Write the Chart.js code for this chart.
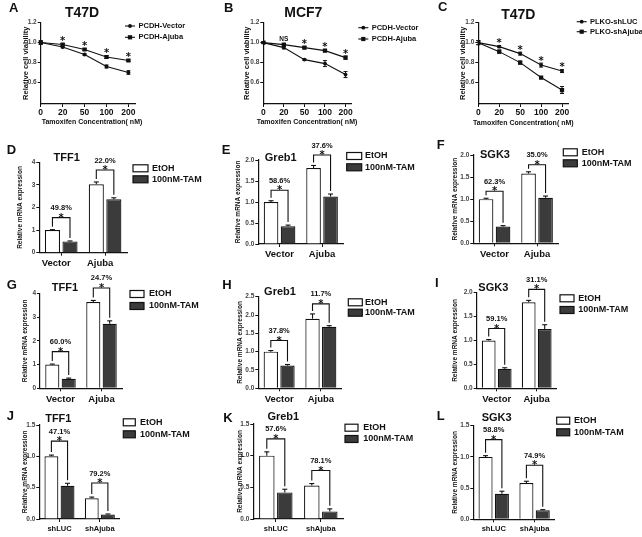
<!DOCTYPE html>
<html>
<head>
<meta charset="utf-8">
<script src="https://cdn.jsdelivr.net/npm/chart.js@4.4.1/dist/chart.umd.min.js"></script>
<style>
  html, body { margin: 0; padding: 0; background: #fff; }
  #fig { position: relative; width: 642px; height: 537px; overflow: hidden; }
  #fig canvas { position: absolute; }
</style>
</head>
<body>
<div id="fig"></div>
<script>
// ---- A-C: cell viability vs tamoxifen dose ----
const conc = ["0", "20", "50", "100", "200"];
const viabTicks = [0.6, 0.8, 1.0, 1.2];

const aVector = [1.00, 0.955, 0.88, 0.76, 0.70];
const aVectorErr = [0.01, 0.008, 0.008, 0.015, 0.018];
const aAjuba = [1.00, 0.98, 0.93, 0.855, 0.82];
const aAjubaErr = [0.02, 0.01, 0.01, 0.015, 0.01];
const aMarks = ["", "*", "*", "*", "*"];

const bVector = [1.00, 0.95, 0.83, 0.79, 0.68];
const bVectorErr = [0.01, 0.012, 0.008, 0.03, 0.03];
const bAjuba = [1.00, 0.98, 0.95, 0.92, 0.85];
const bAjubaErr = [0.01, 0.01, 0.01, 0.01, 0.015];
const bMarks = ["", "NS", "*", "*", "*"];

const cShLUC = [1.00, 0.96, 0.89, 0.775, 0.715];
const cShLUCErr = [0.02, 0.01, 0.015, 0.02, 0.015];
const cShAjuba = [1.00, 0.91, 0.80, 0.65, 0.525];
const cShAjubaErr = [0.02, 0.015, 0.015, 0.008, 0.035];
const cMarks = ["", "*", "*", "*", "*"];

// ---- D-L: qPCR, EtOH vs 100nM tamoxifen ----
const treatments = ["EtOH", "100nM-TAM"];
const groupsOE = ["Vector", "Ajuba"];
const groupsKD = ["shLUC", "shAjuba"];
const ticks4 = [0, 1, 2, 3, 4];
const ticks2 = [0, 0.5, 1.0, 1.5, 2.0];
const ticks25 = [0, 0.5, 1.0, 1.5, 2.0, 2.5];
const ticks15 = [0, 0.5, 1.0, 1.5];

const dEtoh = [1.00, 3.03], dEtohErr = [0.02, 0.10];
const dTam = [0.50, 2.36], dTamErr = [0.02, 0.07];
const dPct = ["49.8%", "22.0%"];

const eEtoh = [1.00, 1.81], eEtohErr = [0.03, 0.06];
const eTam = [0.42, 1.13], eTamErr = [0.03, 0.06];
const ePct = ["58.6%", "37.6%"];

const fEtoh = [1.00, 1.58], fEtohErr = [0.02, 0.04];
const fTam = [0.38, 1.03], fTamErr = [0.02, 0.04];
const fPct = ["62.3%", "35.0%"];

const gEtoh = [1.00, 3.63], gEtohErr = [0.02, 0.07];
const gTam = [0.40, 2.72], gTamErr = [0.03, 0.12];
const gPct = ["60.0%", "24.7%"];

const hEtoh = [1.00, 1.90], hEtohErr = [0.03, 0.13];
const hTam = [0.62, 1.68], hTamErr = [0.03, 0.03];
const hPct = ["37.8%", "11.7%"];

const iEtoh = [1.00, 1.80], iEtohErr = [0.02, 0.04];
const iTam = [0.41, 1.24], iTamErr = [0.02, 0.09];
const iPct = ["59.1%", "31.1%"];

const jEtoh = [1.00, 0.33], jEtohErr = [0.02, 0.02];
const jTam = [0.53, 0.07], jTamErr = [0.04, 0.01];
const jPct = ["47.1%", "79.2%"];

const kEtoh = [1.00, 0.53], kEtohErr = [0.06, 0.03];
const kTam = [0.42, 0.12], kTamErr = [0.05, 0.04];
const kPct = ["57.6%", "78.1%"];

const lEtoh = [1.00, 0.58], lEtohErr = [0.02, 0.03];
const lTam = [0.41, 0.145], lTamErr = [0.04, 0.01];
const lPct = ["58.8%", "74.9%"];

const INK = "#111";
const DARK = "#3b3b3b";
const FAMILY = "'Liberation Sans', Arial, sans-serif";
const STAR = "bold 10px 'DejaVu Sans', sans-serif";
const font = (size, bold = true) => `${bold ? "bold " : ""}${size}px ${FAMILY}`;
const fig = document.getElementById("fig");

function addCanvas(p) {
  const c = document.createElement("canvas");
  c.width = p.w;
  c.height = p.h;
  c.style.left = p.x + "px";
  c.style.top = p.y + "px";
  c.style.width = p.w + "px";
  c.style.height = p.h + "px";
  fig.appendChild(c);
  return c;
}

function put(ctx, s, x, y, f, align = "center", base = "middle") {
  ctx.font = f;
  ctx.textAlign = align;
  ctx.textBaseline = base;
  ctx.fillText(s, x, y);
}

function seg(ctx, x0, y0, x1, y1) {
  ctx.beginPath();
  ctx.moveTo(x0, y0);
  ctx.lineTo(x1, y1);
  ctx.stroke();
}

// letter, title and rotated y title, shared by every panel
function drawFrame(chart, ctx, p) {
  const a = chart.chartArea;
  put(ctx, p.letter, p.letterAt[0], p.letterAt[1], font(13), "left");
  put(ctx, p.title, p.titleAt[0], p.titleAt[1], font(p.titleSize));
  ctx.save();
  ctx.translate(p.yTitleX, (a.top + a.bottom) / 2);
  ctx.rotate(-Math.PI / 2);
  put(ctx, p.yTitle, 0, 0, font(p.yTitleSize));
  ctx.restore();
}

function yAxis(p, max, ticks, digits) {
  return {
    min: p.yMin || 0,
    max,
    afterBuildTicks: s => { s.ticks = ticks.map(value => ({ value })); },
    afterFit: s => { s.width = p.area.l; },
    border: { color: INK, width: 1.2 },
    grid: { drawOnChartArea: false, tickLength: 3, color: INK },
    ticks: {
      font: { family: FAMILY, size: 6.5, weight: "bold" },
      color: "#444",
      padding: 1,
      callback: v => v.toFixed(digits),
    },
  };
}

// ---------- viability line panels ----------
function lineChart(p) {
  const canvas = addCanvas(p);
  const datasets = p.series.map(s => ({
    label: s.name,
    data: s.values.map((y, x) => ({ x, y })),
    borderColor: INK,
    borderWidth: 1.1,
    pointStyle: s.marker,
    pointRadius: s.marker === "rect" ? 3 : 1.9,
    pointBackgroundColor: INK,
    pointBorderWidth: 0,
    tension: 0,
  }));

  const decor = {
    id: "decor",
    afterDraw(chart) {
      const ctx = chart.ctx;
      const y = chart.scales.y;
      ctx.save();
      ctx.fillStyle = INK;
      ctx.strokeStyle = INK;
      drawFrame(chart, ctx, p);
      put(ctx, p.xTitle, p.xTitleAt[0], p.xTitleAt[1], font(7));

      // error bars
      ctx.lineWidth = 1;
      p.series.forEach((s, k) => {
        chart.getDatasetMeta(k).data.forEach((pt, j) => {
          const t = y.getPixelForValue(s.values[j] + s.errs[j]);
          const b = y.getPixelForValue(s.values[j] - s.errs[j]);
          if (b - t < 1.5) return;
          seg(ctx, pt.x, t, pt.x, b);
          seg(ctx, pt.x - 2, t, pt.x + 2, t);
          seg(ctx, pt.x - 2, b, pt.x + 2, b);
        });
      });

      // significance marks above the upper curve
      const up = p.series[p.marksOn];
      chart.getDatasetMeta(p.marksOn).data.forEach((pt, j) => {
        const m = p.marks[j];
        if (!m) return;
        const top = y.getPixelForValue(up.values[j] + up.errs[j]);
        if (m === "*") put(ctx, m, pt.x, top + 0.5, STAR, "center", "alphabetic");
        else put(ctx, m, pt.x, top - 4.5, font(6.5));
      });

      // legend
      p.series.forEach((s, k) => {
        const ly = p.legend.rows[k];
        const [x0, x1] = p.legend.line;
        ctx.lineWidth = 1.1;
        seg(ctx, x0, ly, x1, ly);
        const cx = (x0 + x1) / 2;
        if (s.marker === "rect") ctx.fillRect(cx - 2.1, ly - 2.1, 4.2, 4.2);
        else { ctx.beginPath(); ctx.arc(cx, ly, 1.9, 0, Math.PI * 2); ctx.fill(); }
        put(ctx, s.name, p.legend.text, ly, font(7.5), "left");
      });
      ctx.restore();
    },
  };

  new Chart(canvas, {
    type: "line",
    data: { datasets },
    options: {
      responsive: false,
      animation: false,
      events: [],
      layout: { padding: { left: 0, top: p.area.t, right: p.w - p.area.r, bottom: 0 } },
      plugins: { legend: { display: false }, tooltip: { enabled: false } },
      scales: {
        x: {
          type: "linear",
          min: 0,
          max: 4.3,
          afterBuildTicks: s => { s.ticks = conc.map((_, i) => ({ value: i })); },
          afterFit: s => { s.height = p.h - p.area.b; },
          border: { color: INK, width: 1.2 },
          grid: { drawOnChartArea: false, tickLength: 3, color: INK },
          ticks: {
            autoSkip: false,
            maxRotation: 0,
            padding: 1,
            color: INK,
            font: { family: FAMILY, size: 8.5, weight: "bold" },
            callback: v => conc[v],
          },
        },
        y: yAxis(p, 1.2, viabTicks, 1),
      },
    },
    plugins: [decor],
  });
}

// ---------- qPCR bar panels ----------
function barChart(p) {
  const canvas = addCanvas(p);
  const bar = { borderColor: INK, borderWidth: 1.2, categoryPercentage: 0.8, barPercentage: 0.86 };

  const decor = {
    id: "decor",
    afterDraw(chart) {
      const ctx = chart.ctx;
      const y = chart.scales.y;
      const mE = chart.getDatasetMeta(0).data;
      const mT = chart.getDatasetMeta(1).data;
      ctx.save();
      ctx.fillStyle = INK;
      ctx.strokeStyle = INK;
      drawFrame(chart, ctx, p);
      ctx.lineWidth = 1.1;

      const errBar = (el, v, e) => {
        const top = y.getPixelForValue(v + e);
        seg(ctx, el.x, el.y, el.x, top);
        seg(ctx, el.x - 2.5, top, el.x + 2.5, top);
        return top;
      };

      p.groups.forEach((g, i) => {
        const tL = errBar(mE[i], p.etoh[i], p.etohErr[i]);
        const tR = errBar(mT[i], p.tam[i], p.tamErr[i]);
        const by = Math.min(tL, tR) - p.gap;
        ctx.beginPath();
        ctx.moveTo(mE[i].x, tL - 3);
        ctx.lineTo(mE[i].x, by);
        ctx.lineTo(mT[i].x, by);
        ctx.lineTo(mT[i].x, tR - 3);
        ctx.stroke();
        const cx = (mE[i].x + mT[i].x) / 2;
        put(ctx, "*", cx, by + 3, STAR, "center", "alphabetic");
        put(ctx, p.pct[i], cx, by - 9.5, font(7.5));
      });

      // legend
      const [bx, bw] = p.legend.box;
      treatments.forEach((t, k) => {
        const ly = p.legend.rows[k];
        ctx.fillStyle = k ? DARK : "#fff";
        ctx.fillRect(bx, ly - 3.5, bw, 7);
        ctx.lineWidth = 1.2;
        ctx.strokeRect(bx, ly - 3.5, bw, 7);
        ctx.fillStyle = INK;
        put(ctx, t, p.legend.text, ly, font(9), "left");
      });
      ctx.restore();
    },
  };

  new Chart(canvas, {
    type: "bar",
    data: {
      labels: p.groups,
      datasets: [
        { ...bar, label: treatments[0], data: p.etoh, backgroundColor: "#fff" },
        { ...bar, label: treatments[1], data: p.tam, backgroundColor: DARK },
      ],
    },
    options: {
      responsive: false,
      animation: false,
      events: [],
      layout: { padding: { left: 0, top: p.area.t, right: p.w - p.area.r, bottom: 0 } },
      plugins: { legend: { display: false }, tooltip: { enabled: false } },
      scales: {
        x: {
          offset: true,
          afterFit: s => { s.height = p.h - p.area.b; },
          border: { color: INK, width: 1.2 },
          grid: { offset: false, drawOnChartArea: false, tickLength: 3, color: INK },
          ticks: {
            padding: 2,
            color: INK,
            labelOffset: p.labelShift || 0,
            font: { family: FAMILY, size: p.groupSize, weight: "bold" },
          },
        },
        y: yAxis(p, p.yMax, p.yTicks, p.digits),
      },
    },
    plugins: [decor],
  });
}

const VIAB = "Relative cell viability";
const XT = "Tamoxifen Concentration( nM)";
const MRNA = "Relative mRNA expression";

lineChart({
  x: 0, y: 0, w: 215, h: 130, yMin: 0.385,
  area: { l: 40.7, t: 22.5, r: 135, b: 104 },
  letter: "A", letterAt: [9, 8], title: "T47D", titleAt: [82, 13], titleSize: 14,
  yTitle: VIAB, yTitleX: 26, yTitleSize: 7.5, xTitle: XT, xTitleAt: [92, 121.7],
  series: [
    { name: "PCDH-Vector", values: aVector, errs: aVectorErr, marker: "circle" },
    { name: "PCDH-Ajuba", values: aAjuba, errs: aAjubaErr, marker: "rect" },
  ],
  marksOn: 1, marks: aMarks,
  legend: { line: [125, 135], text: 138.5, rows: [26, 37.3] },
});

lineChart({
  x: 215, y: 0, w: 215, h: 130, yMin: 0.385,
  area: { l: 48.3, t: 22.7, r: 136.7, b: 104 },
  letter: "B", letterAt: [9, 8], title: "MCF7", titleAt: [88.3, 13.3], titleSize: 14,
  yTitle: VIAB, yTitleX: 31.7, yTitleSize: 7.5, xTitle: XT, xTitleAt: [92, 121.7],
  series: [
    { name: "PCDH-Vector", values: bVector, errs: bVectorErr, marker: "circle" },
    { name: "PCDH-Ajuba", values: bAjuba, errs: bAjubaErr, marker: "rect" },
  ],
  marksOn: 1, marks: bMarks,
  legend: { line: [143.3, 153.3], text: 156.7, rows: [27.7, 39] },
});

lineChart({
  x: 430, y: 0, w: 212, h: 130, yMin: 0.385,
  area: { l: 48.3, t: 22.7, r: 138.3, b: 104 },
  letter: "C", letterAt: [8, 7], title: "T47D", titleAt: [88.3, 15], titleSize: 14,
  yTitle: VIAB, yTitleX: 33.3, yTitleSize: 7.5, xTitle: XT, xTitleAt: [93.3, 122.7],
  series: [
    { name: "PLKO-shLUC", values: cShLUC, errs: cShLUCErr, marker: "circle" },
    { name: "PLKO-shAjuba", values: cShAjuba, errs: cShAjubaErr, marker: "rect" },
  ],
  marksOn: 0, marks: cMarks,
  legend: { line: [146.7, 156.7], text: 160, rows: [21.7, 31.7] },
});

const barPanels = [
  { x: 0, y: 130, w: 215, h: 140, area: { l: 39.3, t: 32.3, r: 127, b: 122.7 },
    letter: "D", letterAt: [6.7, 20], title: "TFF1", titleAt: [66.7, 28.3], yTitleX: 20,
    groups: groupsOE, etoh: dEtoh, etohErr: dEtohErr, tam: dTam, tamErr: dTamErr, pct: dPct,
    yMax: 4, yTicks: ticks4, digits: 0, gap: 12, labelShift: -5,
    legend: { box: [133, 15], text: 152, rows: [38.3, 49.3] } },
  { x: 215, y: 130, w: 215, h: 140, area: { l: 43.3, t: 30, r: 128.3, b: 114 },
    letter: "E", letterAt: [6.7, 20], title: "Greb1", titleAt: [65.7, 28.3], yTitleX: 23.3,
    groups: groupsOE, etoh: eEtoh, etohErr: eEtohErr, tam: eTam, tamErr: eTamErr, pct: ePct,
    yMax: 2, yTicks: ticks2, digits: 1, gap: 10.5,
    legend: { box: [131.7, 15], text: 150, rows: [26, 37.3] } },
  { x: 430, y: 130, w: 212, h: 140, area: { l: 43.3, t: 25, r: 128.3, b: 113.3 },
    letter: "F", letterAt: [6.7, 15], title: "SGK3", titleAt: [65, 25], yTitleX: 25,
    groups: groupsOE, etoh: fEtoh, etohErr: fEtohErr, tam: fTam, tamErr: fTamErr, pct: fPct,
    yMax: 2, yTicks: ticks2, digits: 1, gap: 7,
    legend: { box: [133.3, 14], text: 151.7, rows: [22.3, 33.3] } },
  { x: 0, y: 270, w: 215, h: 135, area: { l: 40, t: 23.3, r: 122, b: 118.3 },
    letter: "G", letterAt: [6.7, 15], title: "TFF1", titleAt: [65, 18.3], yTitleX: 25,
    groups: groupsOE, etoh: gEtoh, etohErr: gEtohErr, tam: gTam, tamErr: gTamErr, pct: gPct,
    yMax: 4, yTicks: ticks4, digits: 0, gap: 12.5,
    legend: { box: [130, 14], text: 149, rows: [24, 36] } },
  { x: 215, y: 270, w: 215, h: 135, area: { l: 43.3, t: 26.7, r: 126.7, b: 118.3 },
    letter: "H", letterAt: [7.3, 15], title: "Greb1", titleAt: [65, 21.7], yTitleX: 25,
    groups: groupsOE, etoh: hEtoh, etohErr: hEtohErr, tam: hTam, tamErr: hTamErr, pct: hPct,
    yMax: 2.5, yTicks: ticks25, digits: 1, gap: 10,
    legend: { box: [133.3, 14], text: 150, rows: [32.3, 42.7] } },
  { x: 430, y: 270, w: 212, h: 135, area: { l: 46.7, t: 22.7, r: 126.7, b: 118.3 },
    letter: "I", letterAt: [5, 13.3], title: "SGK3", titleAt: [63.3, 18.3], yTitleX: 25,
    groups: groupsOE, etoh: iEtoh, etohErr: iEtohErr, tam: iTam, tamErr: iTamErr, pct: iPct,
    yMax: 2, yTicks: ticks2, digits: 1, gap: 11,
    legend: { box: [130, 14], text: 148.3, rows: [28.3, 40] } },
  { x: 0, y: 405, w: 215, h: 132, area: { l: 39.3, t: 20, r: 120, b: 114 },
    letter: "J", letterAt: [6.7, 11.7], title: "TFF1", titleAt: [58.3, 14], yTitleX: 25,
    groups: groupsKD, etoh: jEtoh, etohErr: jEtohErr, tam: jTam, tamErr: jTamErr, pct: jPct,
    yMax: 1.5, yTicks: ticks15, digits: 1, gap: 14,
    legend: { box: [123.3, 12], text: 140, rows: [17.3, 29.3] } },
  { x: 215, y: 405, w: 215, h: 132, area: { l: 38.3, t: 19, r: 128.3, b: 114 },
    letter: "K", letterAt: [8.3, 13.3], title: "Greb1", titleAt: [68.3, 11.7], yTitleX: 25,
    groups: groupsKD, etoh: kEtoh, etohErr: kEtohErr, tam: kTam, tamErr: kTamErr, pct: kPct,
    yMax: 1.5, yTicks: ticks15, digits: 1, gap: 13,
    legend: { box: [130, 13], text: 148.3, rows: [22.7, 34] } },
  { x: 430, y: 405, w: 212, h: 132, area: { l: 43.3, t: 20.7, r: 125, b: 114.3 },
    letter: "L", letterAt: [6.7, 11.7], title: "SGK3", titleAt: [66.7, 12.7], yTitleX: 25,
    groups: groupsKD, etoh: lEtoh, etohErr: lEtohErr, tam: lTam, tamErr: lTamErr, pct: lPct,
    yMax: 1.5, yTicks: ticks15, digits: 1, gap: 16,
    legend: { box: [126.7, 13], text: 144, rows: [15.7, 27.3] } },
];

barPanels.forEach(p => barChart({
  titleSize: 11, yTitle: MRNA, yTitleSize: 6.5,
  groupSize: p.groups === groupsKD ? 7.5 : 9.5,
  ...p,
}));
</script>
</body>
</html>
